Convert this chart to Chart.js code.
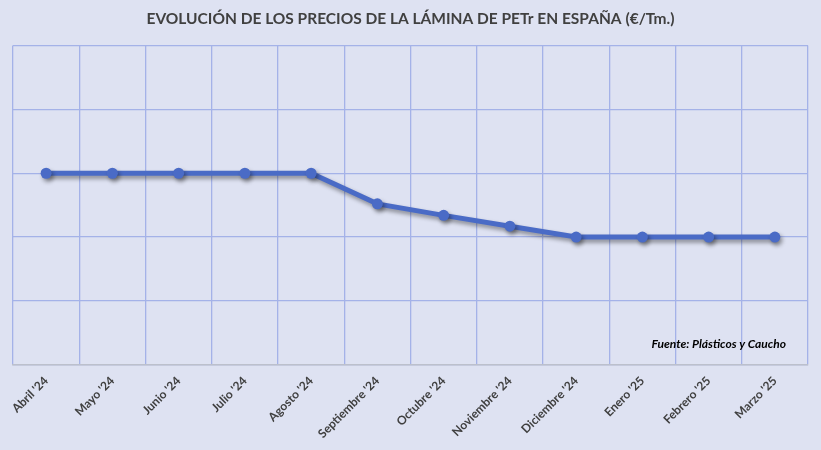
<!DOCTYPE html>
<html>
<head>
<meta charset="utf-8">
<script src="https://cdn.jsdelivr.net/npm/chart.js@4.4.1/dist/chart.umd.min.js"></script>
<style>
  html, body { margin: 0; padding: 0; background: #dee2f2; }
  #wrap { width: 821px; height: 450px; position: relative; }
</style>
</head>
<body>
<div id="wrap"><canvas id="chart"></canvas></div>
<script>
// months shown on the x axis
const months = ["Abril '24", "Mayo '24", "Junio '24", "Julio '24", "Agosto '24", "Septiembre '24",
  "Octubre '24", "Noviembre '24", "Diciembre '24", "Enero '25", "Febrero '25", "Marzo '25"];
// price of PETr sheet (€/Tm.) (no axis labels in the original)
const prices = [1800, 1800, 1800, 1800, 1800, 1752, 1734, 1717, 1700, 1700, 1700, 1700];
const yMin = 1500;
const yMax = 2000;
const yStep = 100;

const titleText = 'EVOLUCIÓN DE LOS PRECIOS DE LA LÁMINA DE PETr EN ESPAÑA (€/Tm.)';
const sourceText = 'Fuente: Plásticos y Caucho';

const fontFamily = 'Lato, "Open Sans", sans-serif';

// drop shadow under the line, like the spreadsheet original
const shadowPlugin = {
  id: 'lineShadow',
  beforeDatasetsDraw(chart) {
    const ctx = chart.ctx;
    ctx.save();
    ctx.shadowColor = 'rgba(0, 0, 0, 0.4)';
    ctx.shadowBlur = 4;
    ctx.shadowOffsetX = 2;
    ctx.shadowOffsetY = 3;
  },
  afterDatasetsDraw(chart) {
    chart.ctx.restore();
  }
};

// source note in the lower right corner of the plot
const sourcePlugin = {
  id: 'sourceNote',
  afterDraw(chart) {
    const { ctx, chartArea } = chart;
    ctx.save();
    ctx.font = 'italic bold 12px ' + fontFamily;
    ctx.fillStyle = '#000';
    ctx.textAlign = 'right';
    ctx.textBaseline = 'middle';
    ctx.fillText(sourceText, chartArea.right - 22, chartArea.bottom - 21);
    ctx.restore();
  }
};

const ctx = document.getElementById('chart').getContext('2d');
new Chart(ctx, {
  type: 'line',
  data: {
    labels: months,
    datasets: [{
      label: 'Precio',
      data: prices,
      borderColor: '#4a6bc6',
      backgroundColor: '#4a6bc6',
      borderWidth: 5,
      pointRadius: 5.5,
      pointBorderWidth: 0,
      pointHoverRadius: 5.5,
      tension: 0
    }]
  },
  options: {
    responsive: true,
    maintainAspectRatio: false,
    animation: false,
    layout: { padding: { left: 13, right: 13, top: 4, bottom: 0 } },
    plugins: {
      legend: { display: false },
      tooltip: { enabled: false },
      title: {
        display: true,
        text: titleText,
        color: '#404040',
        font: { family: fontFamily, size: 15.5, weight: 'bold' },
        padding: { top: 6, bottom: 17 }
      }
    },
    scales: {
      x: {
        offset: true,
        grid: { offset: true, color: '#a4b2e8', lineWidth: 1.3, drawTicks: false },
        border: { color: '#bcc0cc', width: 1.5 },
        ticks: {
          color: '#404040',
          font: { family: fontFamily, size: 12, weight: 'bold' },
          minRotation: 45,
          maxRotation: 45,
          padding: 9,
          autoSkip: false
        }
      },
      y: {
        min: yMin,
        max: yMax,
        ticks: { stepSize: yStep, display: false },
        grid: { color: '#a4b2e8', lineWidth: 1.3, drawTicks: false },
        border: { display: false }
      }
    }
  },
  plugins: [shadowPlugin, sourcePlugin]
});
</script>
</body>
</html>
